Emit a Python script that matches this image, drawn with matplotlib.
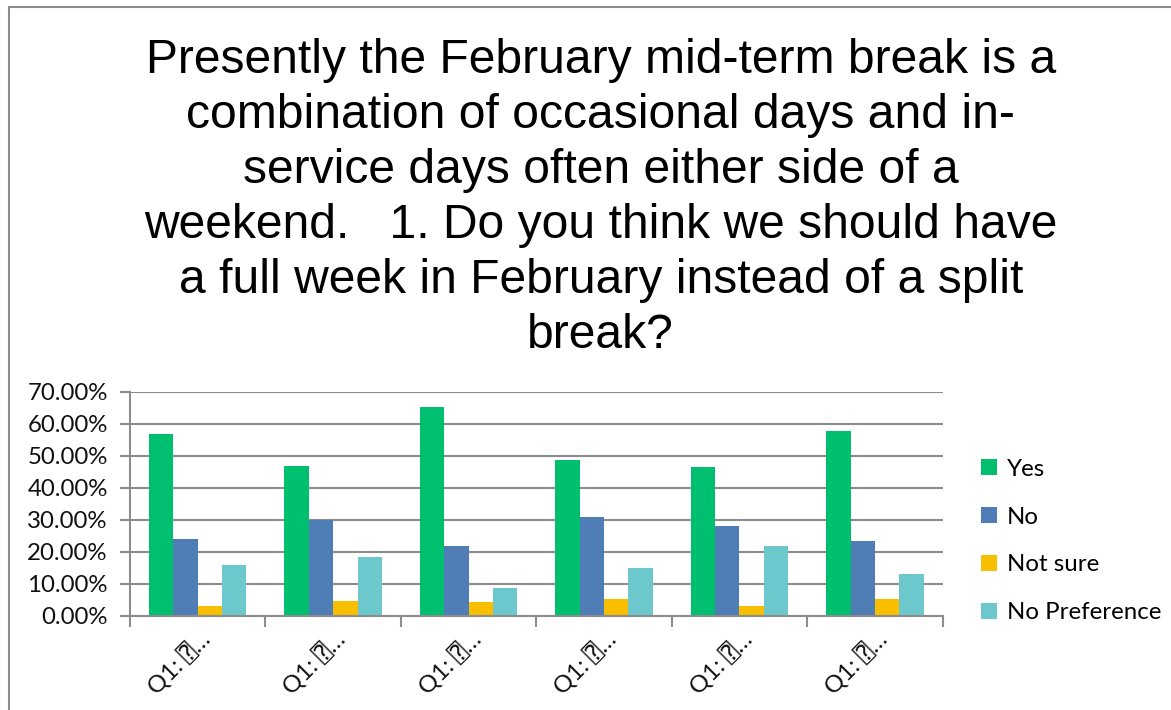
import matplotlib.pyplot as plt
import matplotlib.patches as mpatches
import matplotlib.transforms as mtransforms
import numpy as np

title = ("Presently the February mid-term break is a\n"
         "combination of occasional days and in-\n"
         "service days often either side of a\n"
         "weekend.   1. Do you think we should have\n"
         "a full week in February instead of a split\n"
         "break?")

categories = ["Q1: \u2370\u2026"] * 6
series = ["Yes", "No", "Not sure", "No Preference"]
yes = [56.8, 47.0, 65.2, 48.6, 46.7, 57.9]
no = [24.2, 30.1, 21.9, 31.0, 28.2, 23.5]
not_sure = [3.1, 4.8, 4.4, 5.4, 3.2, 5.4]
no_pref = [15.8, 18.3, 8.8, 15.1, 21.9, 13.2]
colors = ["#00BF6F", "#4F7DB5", "#F8BE00", "#6CC8CC"]

fs = 17.3
fig = plt.figure(figsize=(11.71, 7.10), dpi=100)
ax = fig.add_axes([0.111, 0.1324, 0.694, 0.3156])

x = np.arange(len(categories))
w = 0.18
for i, (vals, name) in enumerate(zip([yes, no, not_sure, no_pref], series)):
    ax.bar(x + (i - 1.5) * w, vals, w, color=colors[i], label=name, zorder=3)

ax.set_xlim(-0.5, len(categories) - 0.5)
ax.set_ylim(0, 70)
ax.set_yticks(np.arange(0, 71, 10))
ax.set_yticklabels([f"{v:.2f}%" for v in np.arange(0, 71, 10)],
                   fontsize=fs, family=["Lato", "DejaVu Sans"], color="#111111")
ax.grid(axis="y", color="#8c8c8c", linewidth=1.5, zorder=0)

# tick marks on group boundaries, labels at centres
ax.set_xticks(np.arange(-0.5, len(categories)), minor=False)
ax.set_xticklabels([])
ax.set_xticks(x, minor=True)
ax.set_xticklabels(categories, minor=True, rotation=45, ha="right",
                   rotation_mode="anchor", fontsize=fs,
                   family=["Lato", "DejaVu Sans", "DejaVu Sans Mono"], color="#111111")
offset = mtransforms.ScaledTranslation(0.22, -0.03, fig.dpi_scale_trans)
for lab in ax.get_xticklabels(minor=True):
    lab.set_transform(lab.get_transform() + offset)
ax.tick_params(axis="x", which="minor", length=0, pad=8)
ax.tick_params(axis="x", which="major", length=8, width=1.5, color="#8c8c8c")
ax.tick_params(axis="y", length=7, width=1.5, color="#8c8c8c", pad=9)

for s in ["top", "right"]:
    ax.spines[s].set_visible(False)
for s in ["left", "bottom"]:
    ax.spines[s].set_color("#8c8c8c")
    ax.spines[s].set_linewidth(1.5)
    ax.spines[s].set_zorder(4)

fig.text(0.513, 0.721, title, ha="center", va="center", fontsize=34.6,
         family="Liberation Sans", linespacing=1.29)

fig.legend(loc="center left", bbox_to_anchor=(0.838, 0.238), frameon=False,
           prop={"family": "Lato", "size": fs},
           handlelength=0.65, handleheight=0.65, handletextpad=0.4,
           labelspacing=1.12, borderpad=0, borderaxespad=0)

frame = mpatches.Rectangle((9 / 1171, -0.1), 1.2, 1 - 7 / 710 + 0.1,
                           transform=fig.transFigure, fill=False,
                           edgecolor="#8c8c8c", linewidth=1.5)
fig.patches.append(frame)

fig.savefig("out.png", dpi=100)
